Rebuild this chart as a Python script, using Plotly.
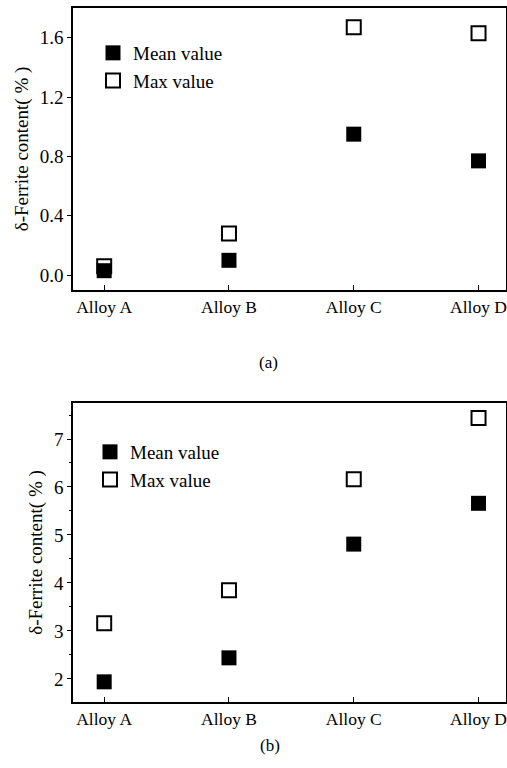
import plotly.graph_objects as go

categories = ["Alloy A", "Alloy B", "Alloy C", "Alloy D"]
mean_a = [0.03, 0.10, 0.95, 0.77]
max_a = [0.06, 0.28, 1.67, 1.63]
mean_b = [1.94, 2.44, 4.81, 5.66]
max_b = [3.16, 3.85, 6.16, 7.44]
yticks_a = [0.0, 0.4, 0.8, 1.2, 1.6]
yticks_b = [2, 3, 4, 5, 6, 7]

W, H = 507, 768
FONT = "Liberation Serif, Times New Roman, serif"
xs = list(range(len(categories)))

fig = go.Figure()

def add_panel(mean, mx, xa, ya, leg):
    fig.add_trace(go.Scatter(x=xs, y=mx, mode="markers", name="Max value",
                             xaxis=xa, yaxis=ya, legend=leg,
                             marker=dict(symbol="square", size=14, color="white",
                                         line=dict(color="black", width=2))))
    fig.add_trace(go.Scatter(x=xs, y=mean, mode="markers", name="Mean value",
                             xaxis=xa, yaxis=ya, legend=leg,
                             marker=dict(symbol="square", size=15, color="black",
                                         line=dict(color="black", width=0))))

add_panel(mean_a, max_a, "x", "y", "legend")
add_panel(mean_b, max_b, "x2", "y2", "legend2")

xcommon = dict(range=[-0.25, 3.22], tickmode="array", tickvals=xs, ticktext=categories,
               showline=True, linecolor="black", linewidth=1.5, mirror=True,
               ticks="inside", ticklen=5, tickcolor="black", showgrid=False,
               zeroline=False, tickfont=dict(family=FONT, size=17.5, color="black"),
               domain=[73 / W, 0.998], automargin=False)
ycommon = dict(showline=True, linecolor="black", linewidth=1.5, mirror=True,
               ticks="outside", ticklen=4, tickcolor="black", showgrid=False,
               zeroline=False, tickfont=dict(family=FONT, size=19, color="black"),
               automargin=False,
               title=dict(text="δ-Ferrite content( % )", font=dict(family=FONT, size=19, color="black"),
                          standoff=6))

fig.update_layout(
    width=W, height=H,
    margin=dict(l=0, r=0, t=0, b=0),
    paper_bgcolor="white", plot_bgcolor="white",
    showlegend=True,
    xaxis=dict(**xcommon, anchor="y"),
    xaxis2=dict(**xcommon, anchor="y2"),
    yaxis=dict(**ycommon, range=[-0.1, 1.8], tickvals=yticks_a,
               ticktext=[f"{v:.1f}" for v in yticks_a],
               domain=[1 - 290 / H, 1 - 8 / H], anchor="x"),
    yaxis2=dict(**ycommon, range=[1.52, 7.75], tickvals=yticks_b,
                minor=dict(ticks="outside", ticklen=2, tickcolor="black", dtick=0.5),
                domain=[1 - 702 / H, 1 - 403 / H], anchor="x2"),
    legend=dict(x=(93) / W, y=1 - 34 / H, xanchor="left", yanchor="top",
                bgcolor="rgba(0,0,0,0)", traceorder="reversed",
                font=dict(family=FONT, size=19, color="black"), itemsizing="trace"),
    legend2=dict(x=(90) / W, y=1 - 433 / H, xanchor="left", yanchor="top",
                 bgcolor="rgba(0,0,0,0)", traceorder="reversed",
                 font=dict(family=FONT, size=19, color="black"), itemsizing="trace"),
    annotations=[
        dict(text="(a)", x=268 / W, y=1 - 362 / H, xref="paper", yref="paper",
             showarrow=False, font=dict(family=FONT, size=17, color="black")),
        dict(text="(b)", x=270 / W, y=1 - 757 / H, xref="paper", yref="paper",
             showarrow=False, font=dict(family=FONT, size=17, color="black")),
    ],
)

fig.write_html("out.html", config={"displayModeBar": False},
               post_script="document.body.style.margin='0';")
